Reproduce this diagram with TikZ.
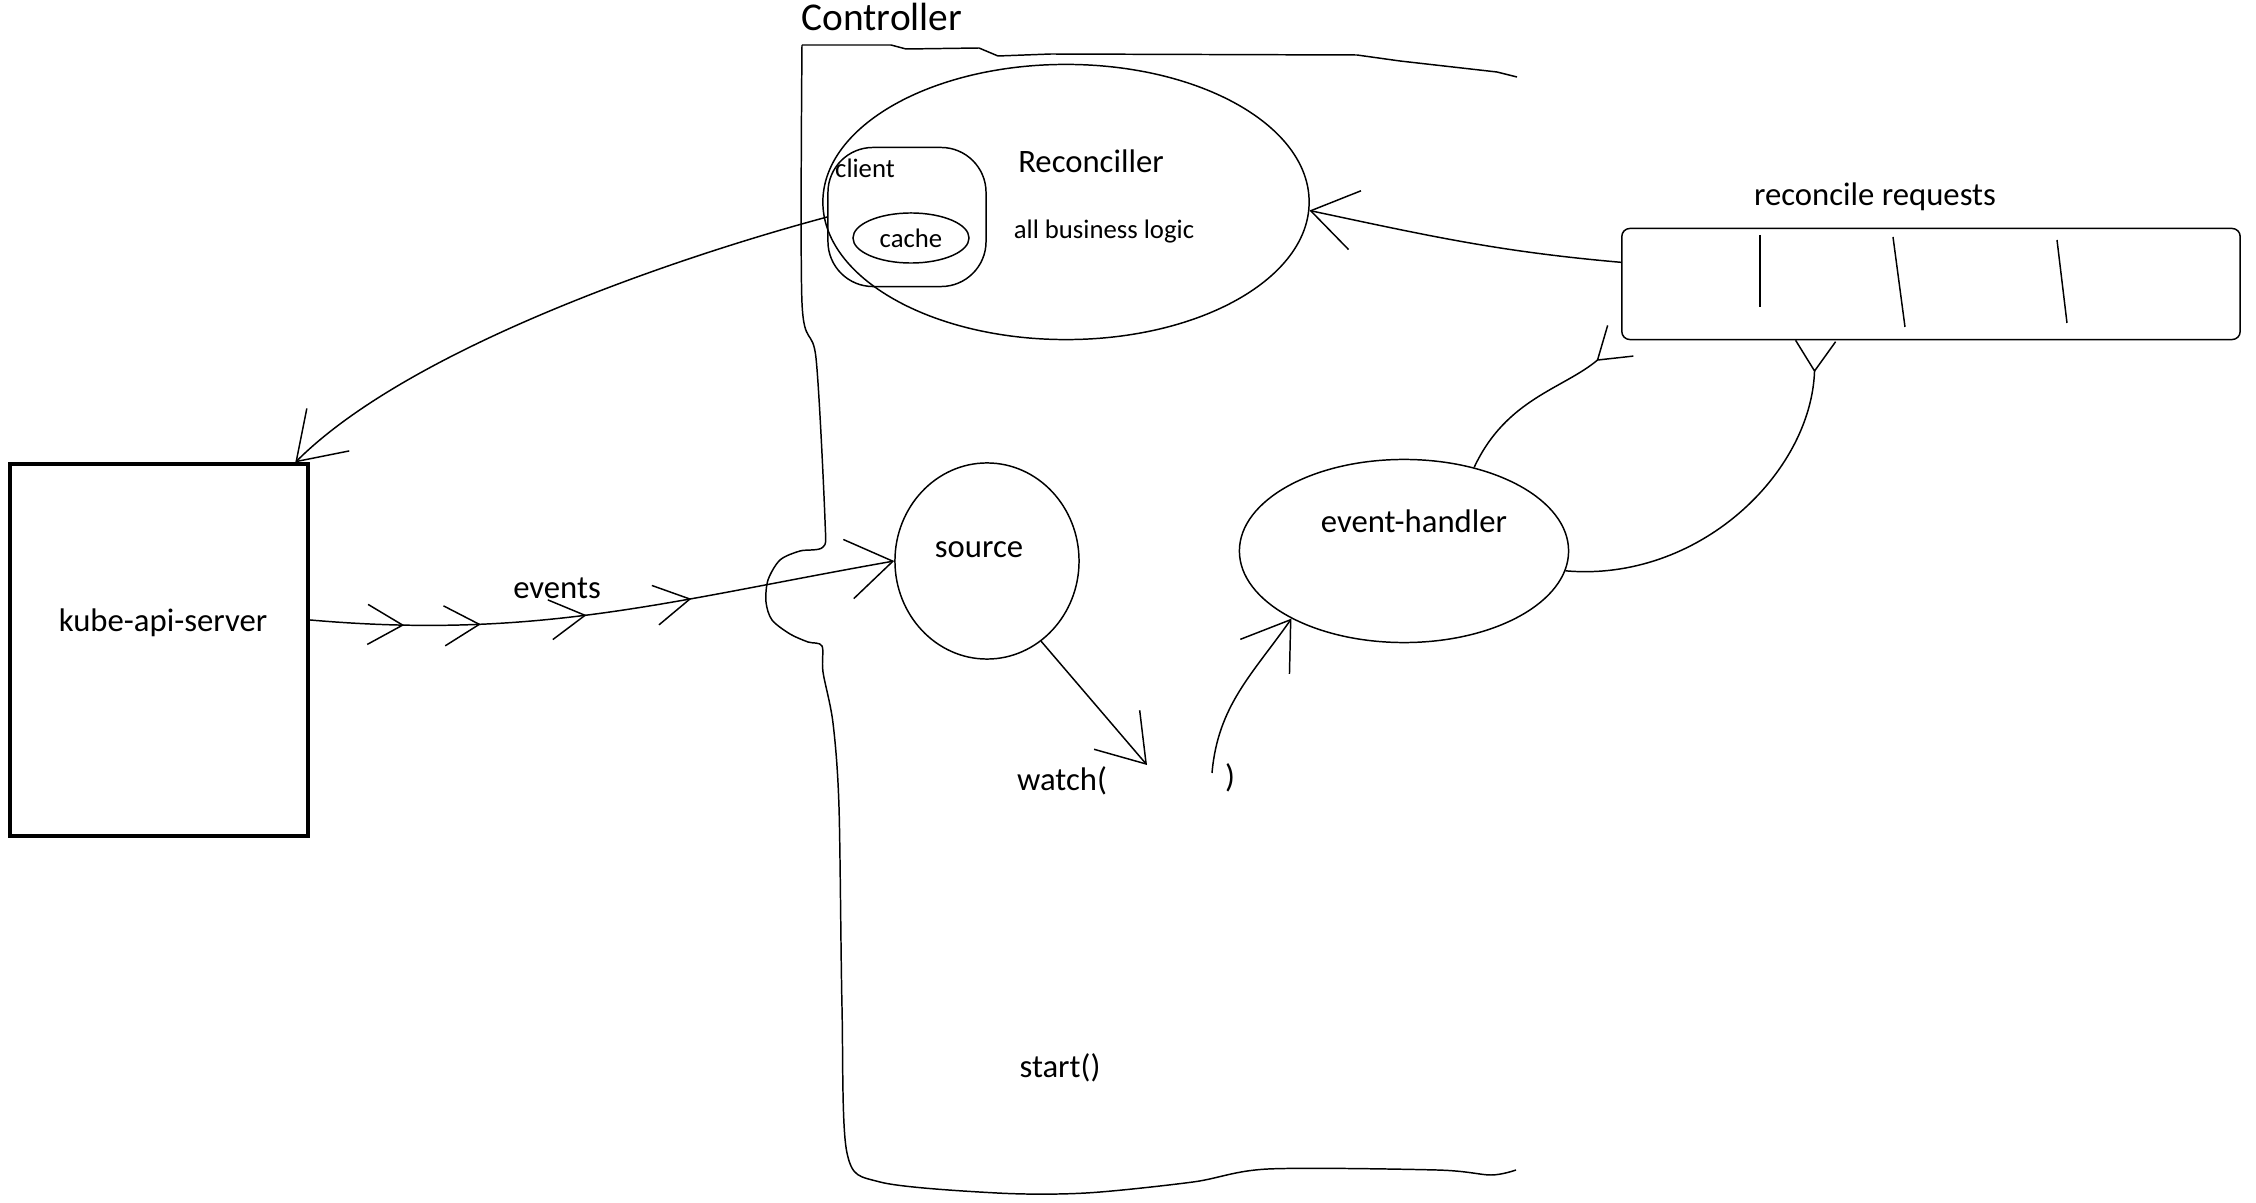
\documentclass[tikz,border=0pt]{standalone}
\usepackage{fontspec}
\setmainfont{Carlito}
\usetikzlibrary{shapes.geometric, arrows.meta, positioning, calc, decorations.markings}
\tikzstyle{sketch} = [line width=0.42pt, black]
\tikzstyle{blob} = [ellipse, draw=black, line width=0.42pt, inner sep=0pt]
\tikzstyle{serverbox} = [rectangle, draw=black, line width=1.1pt, minimum width=2.98cm, minimum height=3.71cm]
\tikzstyle{queuebox} = [rectangle, draw=black, line width=0.42pt, rounded corners=0.08cm, minimum width=6.18cm, minimum height=1.11cm]
\tikzstyle{txt} = [inner sep=0pt, font=\fontsize{9.3}{11}\selectfont]
\tikzstyle{smalltxt} = [inner sep=0pt, font=\fontsize{7.6}{9}\selectfont]
\tikzstyle{arrow} = [sketch, -{Straight Barb[length=0.45cm, width=0.6cm]}]
\tikzstyle{ybarb} = [sketch, -{Straight Barb[reversed, length=0.3cm, width=0.4cm]}]
\tikzstyle{chevrons} = [postaction={decorate}, decoration={markings,
    mark=at position 0.16 with {\arrow{Straight Barb[length=0.35cm, width=0.4cm]}},
    mark=at position 0.29 with {\arrow{Straight Barb[length=0.35cm, width=0.4cm]}},
    mark=at position 0.47 with {\arrow{Straight Barb[length=0.35cm, width=0.4cm]}},
    mark=at position 0.65 with {\arrow{Straight Barb[length=0.35cm, width=0.4cm]}}}]

\begin{document}
\begin{tikzpicture}[x=0.01cm, y=0.01cm]
    \useasboundingbox (0,0) rectangle (2256,1202);

    % Controller frame
    \node[inner sep=0pt, font=\fontsize{11.2}{13}\selectfont] (ctrllabel) at (882,1185) {Controller};
    \draw[sketch] (1517,1125) -- (1497,1130) -- (1400,1141) -- (1357,1147) -- (1051,1148)
        -- (998,1146) -- (979,1154) -- (906,1153) -- (891,1157) -- (802,1157);
    \draw[sketch] plot[smooth, tension=0.5] coordinates {(802,1157) (802,899) (816,844) (825,682) (823,655)
        (800,651) (780,642) (768,622) (766,600) (772,582) (790,568) (808,560) (822,556) (823,530)
        (833,479) (839,395) (842,195) (847,49) (880,20) (997,9) (1086,9) (1193,20)
        (1268,33) (1437,32) (1491,27) (1516,32)};

    % Reconciler with client and cache
    \node[blob, minimum width=4.86cm, minimum height=2.75cm] (recon) at (1066,1000) {};
    \node[txt] (recontitle) at (1091,1041) {Reconciller};
    \node[smalltxt] (logic) at (1104,970) {all business logic};
    \node[draw, sketch, rounded corners=0.45cm, minimum width=1.58cm, minimum height=1.39cm] (client) at (907,985) {};
    \node[smalltxt] (clientlabel) at (865,1034) {client};
    \node[blob, smalltxt, minimum width=1.16cm, minimum height=0.5cm] (cache) at (911,964) {cache};

    % Source, event handler, queue
    \node[blob, minimum width=1.84cm, minimum height=1.96cm] (source) at (987,641) {};
    \node[txt] (sourcelabel) at (979,652) {source};
    \node[blob, minimum width=3.29cm, minimum height=1.83cm] (handler) at (1404,651) {};
    \node[txt] (handlerlabel) at (1414,681) {event-handler};
    \node[queuebox] (queue) at (1931,918) {};
    \node[txt] (queuelabel) at (1875,1005) {reconcile requests};
    \foreach \xa/\ya/\xb/\yb in {1760/967/1760/895, 1893/965/1905/875, 2057/962/2067/879}
        \draw[sketch] (\xa,\ya) -- (\xb,\yb);

    % API server
    \node[serverbox] (api) at (159,552) {};
    \node[txt] (apilabel) at (163,579) {kube-api-server};
    \node[txt] (events) at (557,614) {events};

    % watch() and start()
    \node[txt] (watch) at (1062,421) {watch(};
    \node[txt] (closeparen) at (1230,424) {)};
    \node[txt] (start) at (1060,134) {start()};
    \coordinate (watchin) at (1147,437);
    \coordinate (watchout) at (1212,429);

    % Arrows
    \draw[arrow, chevrons] ([yshift=0.3cm]api.east) to[out=-5, in=190] (source.west);
    \draw[arrow] (source.-56) -- (watchin);
    \draw[arrow] (watchout) to[out=85, in=235] (handler.211);
    \draw[ybarb] (handler.50) to[out=65, in=220] (queue.south west);
    \draw[ybarb] (handler.-7) to[out=-5, in=-92] (queue.206);
    \draw[arrow] (queue.176) to[out=175, in=-12] (recon.-2);
    \draw[arrow] (client.west) to[out=195, in=45, looseness=0.7] (api.54);
\end{tikzpicture}
\end{document}
